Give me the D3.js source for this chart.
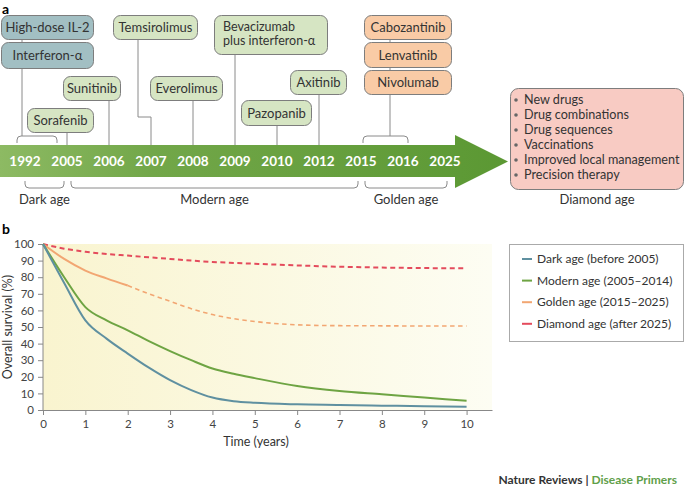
<!DOCTYPE html>
<html>
<head>
<meta charset="utf-8">
<script src="https://cdn.jsdelivr.net/npm/d3@7"></script>
<style>
  body { margin: 0; background: #fff; }
  svg { display: block; font-family: Lato, "Open Sans", sans-serif; }
</style>
</head>
<body>
<svg id="chart" width="685" height="490"></svg>
<script>
// ---- panel a: timeline data ----
var years = [1992, 2005, 2006, 2007, 2008, 2009, 2010, 2012, 2015, 2016, 2025];
var drugs = ["High-dose IL-2", "Interferon-α", "Sorafenib", "Sunitinib", "Temsirolimus", "Everolimus",
  "Bevacizumab|plus interferon-α", "Pazopanib", "Axitinib", "Cabozantinib", "Lenvatinib", "Nivolumab"];
var drugYears = [1992, 1992, 2005, 2006, 2007, 2008, 2009, 2010, 2012, 2015, 2015, 2015];
var drugEras = ["dark", "dark", "modern", "modern", "modern", "modern", "modern", "modern", "modern",
  "golden", "golden", "golden"];
var eraNames = ["Dark age", "Modern age", "Golden age"];
var eraFrom = [1992, 2005, 2015];
var eraTo = [2005, 2015, 2025];
var futureItems = ["New drugs", "Drug combinations", "Drug sequences", "Vaccinations",
  "Improved local management", "Precision therapy"];

// ---- panel b: survival data ----
var timeYears = [0, 0.5, 1, 1.5, 2, 2.5, 3, 3.5, 4, 4.5, 5, 6, 7, 8, 9, 10];
var darkSurvival = [100, 76.5, 54, 43, 34, 25.5, 18, 12, 7.5, 5.3, 4.3, 3.4, 3, 2.6, 2.3, 2];
var modernSurvival = [100, 80, 62, 54, 48, 41.5, 35.5, 30, 25, 21.8, 19.2, 14.5, 11.5, 9.5, 7.5, 5.5];
var goldenSurvival = [100, 91, 84, 79.3, 75, 70, 65.5, 61, 57.5, 55, 53.3, 51.3, 50.8, 50.7, 50.6, 50.6];
var diamondSurvival = [100, 97.2, 95.3, 94, 93, 92, 91, 90, 89.2, 88.6, 88.1, 87.1, 86.3, 85.8, 85.5, 85.4];
var goldenObservedUntil = 2; // years; after that the curve is projected (dashed)
var legendLabels = ["Dark age (before 2005)", "Modern age (2005–2014)", "Golden age (2015–2025)", "Diamond age (after 2025)"];
var yTicks = [0, 10, 20, 30, 40, 50, 60, 70, 80, 90, 100];
var xTicks = [0, 1, 2, 3, 4, 5, 6, 7, 8, 9, 10];

// layout of the drug boxes: x, y, w, h, x where the connector leaves the box
var boxLayout = [
  [1, 15, 92, 24, 22], [1, 42, 92, 26, 22], [27, 108, 66, 24, null], [63, 76, 57, 24, null],
  [113, 15, 84, 24, 138], [150, 76, 72, 24, null], [214, 15, 113, 39, null], [241, 100, 70, 25, null],
  [290, 70, 56, 24, null], [364, 15, 87, 24, 390], [364, 42, 87, 25, 390], [364, 70, 87, 24, 390]
];

var eraFill = { dark: "#a2bfc3", modern: "#d6e5c3", golden: "#f9cba6" };
var lineColors = ["#5f90a0", "#6ea443", "#f2a672", "#e44b5c"];

var svg = d3.select("#chart");
var defs = svg.append("defs");

// panel labels
svg.append("text").attr("x", 2).attr("y", 14).attr("font-weight", "bold").attr("font-size", 14).text("a");
svg.append("text").attr("x", 2).attr("y", 234).attr("font-weight", "bold").attr("font-size", 14).text("b");

// ---- timeline ----
var xYear = d3.scalePoint().domain(years).range([25, 445]);
var bandTop = 145, bandBottom = 177;

var grad = defs.append("linearGradient").attr("id", "band")
  .attr("gradientUnits", "userSpaceOnUse").attr("x1", 0).attr("x2", 508).attr("y1", 0).attr("y2", 0);
grad.append("stop").attr("offset", 0).attr("stop-color", "#8dba63");
grad.append("stop").attr("offset", 0.3).attr("stop-color", "#72a749");
grad.append("stop").attr("offset", 1).attr("stop-color", "#5b9833");

svg.append("path")
  .attr("d", "M0," + bandTop + "H455V135L508,161.5L455,188V" + bandBottom + "H0Z")
  .attr("fill", "url(#band)");

svg.selectAll(".yr").data(years).enter().append("text")
  .attr("x", function(d) { return xYear(d); })
  .attr("y", 161).attr("dy", "0.36em")
  .attr("text-anchor", "middle").attr("fill", "#fff")
  .attr("font-weight", "bold").attr("font-size", 13.5)
  .text(function(d) { return d; });

var grey = "#8a8a8a";

// brackets above the band (several drugs in one year group)
var topBrackets = [[17, 57], [363, 408]];
topBrackets.forEach(function(b) {
  var t = 136, bt = 143, r = 4;
  svg.append("path")
    .attr("d", "M" + b[0] + "," + bt + "V" + (t + r) + "Q" + b[0] + "," + t + " " + (b[0] + r) + "," + t +
      "H" + (b[1] - r) + "Q" + b[1] + "," + t + " " + b[1] + "," + (t + r) + "V" + bt)
    .attr("fill", "none").attr("stroke", grey).attr("stroke-width", 1);
});

// connectors
drugs.forEach(function(name, i) {
  var L = boxLayout[i];
  var lx = L[4] != null ? L[4] : xYear(drugYears[i]);
  var y0 = L[1] + L[3];
  var next = boxLayout[i + 1];
  var path;
  if (next && drugYears[i + 1] === drugYears[i] && next[0] === L[0]) {
    path = "M" + lx + "," + y0 + "V" + next[1];
  } else if (L[4] != null && (drugYears[i] === 1992 || drugYears[i] === 2015)) {
    path = "M" + lx + "," + y0 + "V136";
  } else {
    var tx = xYear(drugYears[i]);
    if (Math.abs(tx - lx) > 3) {
      path = "M" + lx + "," + y0 + "V117H" + tx + "V" + bandTop;
    } else {
      path = "M" + tx + "," + y0 + "V" + bandTop;
    }
  }
  svg.append("path").attr("d", path).attr("fill", "none").attr("stroke", grey).attr("stroke-width", 1);
});

// drug boxes
var boxes = svg.selectAll(".drug").data(drugs).enter().append("g");
boxes.append("rect")
  .attr("x", function(d, i) { return boxLayout[i][0] + 0.5; })
  .attr("y", function(d, i) { return boxLayout[i][1] + 0.5; })
  .attr("width", function(d, i) { return boxLayout[i][2]; })
  .attr("height", function(d, i) { return boxLayout[i][3]; })
  .attr("rx", 7)
  .attr("fill", function(d, i) { return eraFill[drugEras[i]]; })
  .attr("stroke", "#7d7d7d").attr("stroke-width", 1);
boxes.each(function(d, i) {
  var L = boxLayout[i];
  var lines = d.split("|");
  var g = d3.select(this);
  if (lines.length === 1) {
    g.append("text").attr("font-size", 13).attr("fill", "#333")
      .attr("x", L[0] + L[2] / 2 + 0.5).attr("y", L[1] + L[3] / 2 + 0.5).attr("dy", "0.35em")
      .attr("text-anchor", "middle").text(d);
  } else {
    lines.forEach(function(s, k) {
      g.append("text").attr("font-size", 12.5).attr("fill", "#333")
        .attr("x", L[0] + 9).attr("y", L[1] + 16 + k * 14).text(s);
    });
  }
});

// era brackets below the band
eraNames.forEach(function(name, i) {
  var x0 = xYear(eraFrom[i]) + (i === 0 ? 0 : 4);
  var x1 = xYear(eraTo[i]) + (i === eraNames.length - 1 ? 2 : -3);
  var b = 188, t = 181, r = 4;
  svg.append("path")
    .attr("d", "M" + x0 + "," + t + "V" + (b - r) + "Q" + x0 + "," + b + " " + (x0 + r) + "," + b +
      "H" + (x1 - r) + "Q" + x1 + "," + b + " " + x1 + "," + (b - r) + "V" + t)
    .attr("fill", "none").attr("stroke", grey).attr("stroke-width", 1);
  svg.append("text").attr("x", (x0 + x1) / 2).attr("y", 204)
    .attr("text-anchor", "middle").attr("font-size", 13).attr("fill", "#333").text(name);
});

// diamond age box
svg.append("rect").attr("x", 510.5).attr("y", 88.5).attr("width", 173).attr("height", 101)
  .attr("rx", 8).attr("fill", "#f8cbc3").attr("stroke", "#7d7d7d");
futureItems.forEach(function(s, k) {
  var yy = 104 + k * 15;
  svg.append("circle").attr("cx", 516).attr("cy", yy - 4).attr("r", 1.8).attr("fill", "#666");
  svg.append("text").attr("x", 524).attr("y", yy).attr("font-size", 12.6).attr("fill", "#333").text(s);
});
svg.append("text").attr("x", 597).attr("y", 204).attr("text-anchor", "middle")
  .attr("font-size", 13).attr("fill", "#333").text("Diamond age");

// ---- panel b: survival plot ----
var x = d3.scaleLinear().domain([0, 10.6]).range([43, 492]);
var y = d3.scaleLinear().domain([0, 100]).range([410, 244]);

var bg = defs.append("linearGradient").attr("id", "plotbg").attr("x1", 0).attr("x2", 1).attr("y1", 0).attr("y2", 0);
bg.append("stop").attr("offset", 0).attr("stop-color", "#f9f4cf");
bg.append("stop").attr("offset", 1).attr("stop-color", "#fdfdf3");
svg.append("rect").attr("x", x(0)).attr("y", y(100)).attr("width", x(10.6) - x(0)).attr("height", y(0) - y(100))
  .attr("fill", "url(#plotbg)");

var yAxis = svg.append("g").attr("transform", "translate(" + x(0) + ",0)")
  .call(d3.axisLeft(y).tickValues(yTicks).tickSize(5).tickPadding(4));
var xAxis = svg.append("g").attr("transform", "translate(0," + y(0) + ")")
  .call(d3.axisBottom(x).tickValues(xTicks).tickSize(5).tickPadding(5).tickSizeOuter(0));
[yAxis, xAxis].forEach(function(a) {
  a.selectAll("path, line").attr("stroke", "#888");
  a.selectAll("text").attr("font-family", "Lato, sans-serif").attr("font-size", 11.5).attr("fill", "#444");
});
yAxis.select(".domain").attr("d", "M0," + y(0) + "V" + y(100));

svg.append("text").attr("transform", "translate(12," + y(50) + ") rotate(-90)")
  .attr("text-anchor", "middle").attr("font-size", 12.5).attr("fill", "#333").text("Overall survival (%)");
svg.append("text").attr("x", 256).attr("y", 446).attr("text-anchor", "middle")
  .attr("font-size", 12.5).attr("fill", "#333").text("Time (years)");

var line = d3.line()
  .x(function(d) { return x(d[0]); })
  .y(function(d) { return y(d[1]); })
  .curve(d3.curveMonotoneX);

function pairs(vals) {
  return timeYears.map(function(t, i) { return [t, vals[i]]; });
}

svg.append("path").datum(pairs(diamondSurvival)).attr("d", line)
  .attr("fill", "none").attr("stroke", lineColors[3]).attr("stroke-width", 2).attr("stroke-dasharray", "5,3.5");
var gp = pairs(goldenSurvival);
svg.append("path").datum(gp.filter(function(d) { return d[0] >= goldenObservedUntil; })).attr("d", line)
  .attr("fill", "none").attr("stroke", lineColors[2]).attr("stroke-width", 1.6).attr("stroke-dasharray", "4.5,3.5");
svg.append("path").datum(gp.filter(function(d) { return d[0] <= goldenObservedUntil; })).attr("d", line)
  .attr("fill", "none").attr("stroke", lineColors[2]).attr("stroke-width", 2);
svg.append("path").datum(pairs(modernSurvival)).attr("d", line)
  .attr("fill", "none").attr("stroke", lineColors[1]).attr("stroke-width", 2);
svg.append("path").datum(pairs(darkSurvival)).attr("d", line)
  .attr("fill", "none").attr("stroke", lineColors[0]).attr("stroke-width", 2);

// legend
var lg = svg.append("g");
lg.append("rect").attr("x", 509.5).attr("y", 244.5).attr("width", 174).attr("height", 97)
  .attr("fill", "#fff").attr("stroke", "#aaa");
legendLabels.forEach(function(s, k) {
  var yy = 259 + k * 21.6;
  lg.append("line").attr("x1", 522).attr("x2", 532).attr("y1", yy).attr("y2", yy)
    .attr("stroke", lineColors[k]).attr("stroke-width", 2);
  lg.append("text").attr("x", 537).attr("y", yy).attr("dy", "0.35em")
    .attr("font-size", 12).attr("fill", "#333").text(s);
});

// footer
var ft = svg.append("text").attr("x", 677).attr("y", 484).attr("text-anchor", "end")
  .attr("font-size", 12).attr("font-weight", "bold");
ft.append("tspan").attr("fill", "#333").text("Nature Reviews | ");
ft.append("tspan").attr("fill", "#5fa04a").text("Disease Primers");
</script>
</body>
</html>
